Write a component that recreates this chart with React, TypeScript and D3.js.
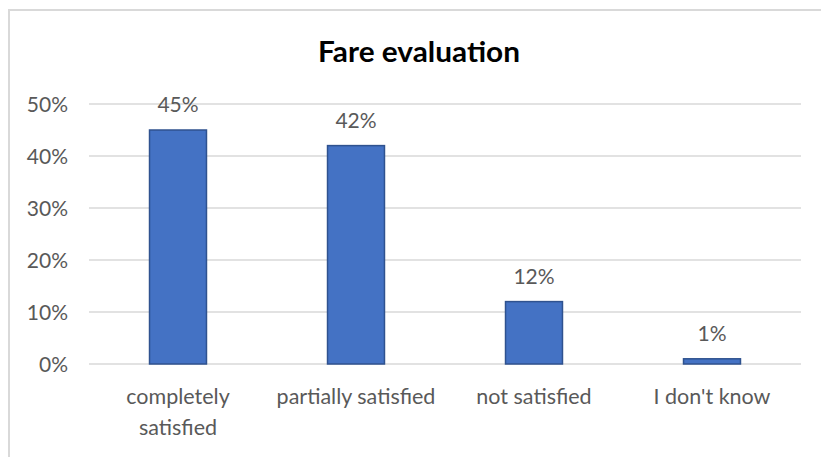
import React from "react";
import * as d3 from "d3";

const categories = ["completely\nsatisfied", "partially satisfied", "not satisfied", "I don't know"];
const values = [45, 42, 12, 1];
const yTicks = [0, 10, 20, 30, 40, 50];
const title = "Fare evaluation";

const W = 821;
const H = 457;
const FONT = "Lato, 'Open Sans', sans-serif";

export default function App() {
  const x = d3.scaleBand<string>().domain(categories).range([89, 801]).paddingInner(0.68).paddingOuter(0.34);
  const y = d3.scaleLinear().domain([0, 50]).range([364, 104]);

  return (
    <svg
      width={W}
      height={H}
      style={{ position: "absolute", left: 0, top: 0, display: "block", background: "#fff" }}
      fontFamily={FONT}
    >
      <rect x={0} y={0} width={W} height={H} fill="#fff" />
      <line x1={9} x2={9} y1={9} y2={H} stroke="#D9D9D9" strokeWidth={2} />
      <line x1={8} x2={W} y1={10} y2={10} stroke="#D9D9D9" strokeWidth={2} />
      <text
        x={419}
        y={62}
        textAnchor="middle"
        fontSize={28}
        fontWeight="bold"
        fill="#000"
        textLength={202}
        lengthAdjust="spacingAndGlyphs"
      >
        {title}
      </text>
      {yTicks.map((t) => (
        <g key={t}>
          <line x1={89} x2={801} y1={y(t)} y2={y(t)} stroke="#D9D9D9" strokeWidth={1.5} />
          <text x={68} y={y(t) + 7.5} textAnchor="end" fontSize={21} fill="#595959">
            {t}%
          </text>
        </g>
      ))}
      {categories.map((c, i) => {
        const bx = x(c) as number;
        const bw = x.bandwidth();
        const cx = bx + bw / 2;
        const lines = c.split("\n");
        return (
          <g key={c}>
            <rect
              x={bx}
              y={y(values[i])}
              width={bw}
              height={y(0) - y(values[i])}
              fill="#4472C4"
              stroke="#2F528F"
              strokeWidth={1.5}
            />
            <text x={cx} y={y(values[i]) - 18} textAnchor="middle" fontSize={21} fill="#595959">
              {values[i]}%
            </text>
            {lines.map((l, j) => (
              <text key={j} x={cx} y={404 + j * 31} textAnchor="middle" fontSize={21.5} fill="#595959">
                {l}
              </text>
            ))}
          </g>
        );
      })}
    </svg>
  );
}
